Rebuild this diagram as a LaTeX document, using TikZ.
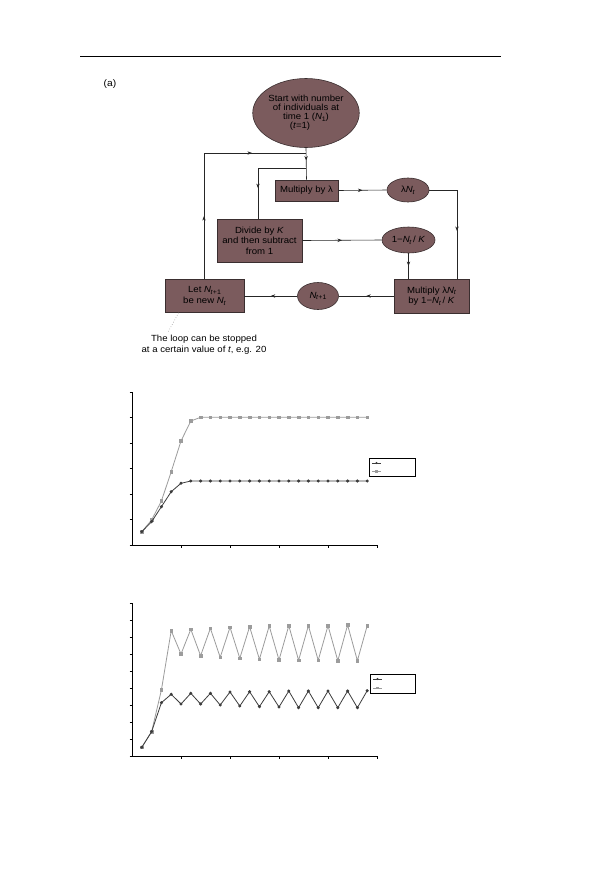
\documentclass[tikz,border=0pt]{standalone}
\usepackage{fontspec}
\setmainfont{Liberation Sans}[FakeStretch=1.08]
\usetikzlibrary{arrows.meta,decorations.markings,shapes.geometric,plotmarks}
\definecolor{nodefill}{HTML}{7B5B5D}
\definecolor{nodeline}{HTML}{3A2E2F}
\definecolor{serdark}{HTML}{3C3C3C}
\definecolor{sergray}{HTML}{9C9C9C}
\newcommand\mysub[1]{\raisebox{-0.35ex}{\fontsize{6.5}{6.5}\selectfont #1}}
\newcommand\Nv[1]{\textit{N}\kern-0.3pt\mysub{#1}}
\tikzset{
  txt/.style={font=\fontsize{8.9}{8.9}\selectfont, align=center, text=black},
  boxnode/.style={txt, draw=nodeline, line width=0.6pt, fill=nodefill, inner sep=0pt},
  ovalnode/.style={txt, ellipse, draw=nodeline, line width=0.6pt, fill=nodefill, inner sep=0pt},
  conn/.style={draw=black!85, line width=0.6pt},
  midarrow/.style={postaction={decorate,decoration={markings,
      mark=at position #1 with {\arrow{Stealth[length=4.5pt,width=3.4pt]}}}}},
  axisline/.style={draw=black, line width=0.8pt},
  darkline/.style={draw=serdark, line width=0.8pt},
  grayline/.style={draw=sergray, line width=0.8pt},
}
\begin{document}
\begin{tikzpicture}[x=1pt,y=-1pt]
\useasboundingbox (0,0) rectangle (590,884);
\fill[white] (0,0) rectangle (590,884);

% top rule and label
\draw[line width=0.9pt] (80,56) -- (501,56);
\node[txt, font=\fontsize{9.5}{9.5}\selectfont] (alabel) at (110,84) {(a)};

% flowchart nodes
\node[ovalnode, minimum width=91, minimum height=69] (start) at (306,113)
  {Start with number\\of individuals at\\time 1 (\Nv{1})\\\hspace*{-12pt}(\textit{t}=1)};
\node[boxnode, minimum width=63, minimum height=21] (mult) at (306.5,190.5) {Multiply by λ};
\node[ovalnode, minimum width=42, minimum height=24] (lamN) at (408,190) {λ\Nv{\textit{t}}};
\node[boxnode, minimum width=85, minimum height=43, font=\fontsize{8.9}{10.5}\selectfont] (divide) at (259.5,240.5)
  {Divide by \textit{K}\\and then subtract\\from 1};
\node[ovalnode, minimum width=53, minimum height=26] (onem) at (408.5,240) {1−\Nv{\textit{t}}\,/ \textit{K}};
\node[boxnode, minimum width=75, minimum height=34, font=\fontsize{8.9}{10.5}\selectfont] (mult2) at (431.5,296)
  {Multiply λ\Nv{\textit{t}}\\by 1−\Nv{\textit{t}}\,/ \textit{K}};
\node[ovalnode, minimum width=41, minimum height=27] (nt1) at (318,296) {\Nv{\textit{t}+1}};
\node[boxnode, minimum width=79, minimum height=33, font=\fontsize{8.9}{10.5}\selectfont] (let) at (204.5,296)
  {Let \Nv{\textit{t}+1}\\be new \Nv{\textit{t}}};

% junction coordinates
\coordinate (jtop) at (306,153);
\coordinate (jbr) at (306,168);
\coordinate (ltop) at (204,153);
\coordinate (bl) at (258,168);
\coordinate (rt) at (457,190);
\coordinate (dend) at (168,332);

% connectors
\draw[conn, midarrow=0.4] (start.south) -- (mult.north);
\draw[conn, midarrow=0.5] (let.north -| ltop) -- (ltop);
\draw[conn, midarrow=0.47] (ltop) -- (jtop);
\draw[conn, midarrow=0.69] (jbr) -- (bl) -- (bl |- divide.north);
\draw[conn, midarrow=0.5] (mult.east) -- (lamN.west);
\draw[conn, midarrow=0.59] (lamN.east) -- (rt) -- (rt |- mult2.north);
\draw[conn, midarrow=0.5] (divide.east) -- (onem.west);
\draw[conn, midarrow=0.5] (onem.south) -- (onem.south |- mult2.north);
\draw[conn, midarrow=0.5] (mult2.west) -- (nt1.east);
\draw[conn, midarrow=0.5] (nt1.west) -- (let.east);
\draw[sergray, line width=0.6pt, dotted] (let.south west) ++(14,0) -- (dend);
\node[txt, font=\fontsize{8.9}{11}\selectfont] (note) at (204,344.5)
  {The loop can be stopped\\at a certain value of \textit{t}, e.g. 20};

% ---------- chart 1 ----------
\draw[axisline] (132,392) -- (132,545) -- (377,545);
\foreach \k in {0,...,6} \draw[axisline, line width=0.5pt] (129.5,392+25.5*\k) -- (132,392+25.5*\k);
\foreach \k in {1,...,5} \draw[axisline, line width=0.5pt] (132+49*\k,545) -- (132+49*\k,547.5);
\begin{scope}[shift={(132,0)}, x=9.8pt]
\draw[grayline] plot[mark=square*, mark size=1.3pt, mark options={fill=sergray, draw=sergray}] coordinates {
 (1,531.7)(2,520)(3,501)(4,471.7)(5,441)(6,421)(7,417.3)(8,417.3)(9,417.3)(10,417.3)(11,417.3)(12,417.3)
 (13,417.3)(14,417.3)(15,417.3)(16,417.3)(17,417.3)(18,417.3)(19,417.3)(20,417.3)(21,417.3)(22,417.3)(23,417.3)(24,417.3)};
\draw[darkline] plot[mark=*, mark size=1.1pt, mark options={fill=serdark, draw=serdark}] coordinates {
 (1,531.7)(2,521.7)(3,506.7)(4,491.7)(5,483.3)(6,481)(7,481)(8,481)(9,481)(10,481)(11,481)(12,481)
 (13,481)(14,481)(15,481)(16,481)(17,481)(18,481)(19,481)(20,481)(21,481)(22,481)(23,481)(24,481)};
\end{scope}
\draw[line width=0.8pt] (369,458) rectangle (415,476);
\draw[darkline] (372,463) -- (381,463);
\fill[serdark] (376.5,463) circle (1.1pt);
\draw[grayline] (372,471.5) -- (381,471.5);
\fill[sergray] (375.2,470.2) rectangle (377.8,472.8);

% ---------- chart 2 ----------
\draw[axisline] (132,603) -- (132,756) -- (377,756);
\foreach \k in {0,...,9} \draw[axisline, line width=0.5pt] (129.5,603+17*\k) -- (132,603+17*\k);
\foreach \k in {1,...,5} \draw[axisline, line width=0.5pt] (132+49*\k,756) -- (132+49*\k,758.5);
\begin{scope}[shift={(132,0)}, x=9.8pt]
\draw[grayline] plot[mark=square*, mark size=1.3pt, mark options={fill=sergray, draw=sergray}] coordinates {
 (1,747.3)(2,731.7)(3,690)(4,630.7)(5,654)(6,629.3)(7,655.7)(8,628.3)(9,657.3)(10,627.3)(11,658.3)(12,626.7)
 (13,659.3)(14,626)(15,660)(16,625.7)(17,660.3)(18,625.7)(19,660.3)(20,625.7)(21,660.7)(22,625)(23,660.7)(24,625.7)};
\draw[darkline] plot[mark=*, mark size=1.1pt, mark options={fill=serdark, draw=serdark}] coordinates {
 (1,747.3)(2,731.7)(3,702.7)(4,694.3)(5,704)(6,693.3)(7,704)(8,693.3)(9,705)(10,692)(11,706)(12,691.7)
 (13,706.7)(14,691.7)(15,707)(16,691)(17,707.7)(18,691)(19,707.7)(20,691)(21,707.7)(22,691)(23,707.7)(24,690.7)};
\end{scope}
\draw[line width=0.8pt] (370,674) rectangle (415,693);
\draw[darkline] (373,679) -- (382,679);
\fill[serdark] (377.5,679) circle (1.1pt);
\draw[grayline] (373,688) -- (382,688);
\fill[sergray] (376.2,686.7) rectangle (378.8,689.3);
\end{tikzpicture}
\end{document}
